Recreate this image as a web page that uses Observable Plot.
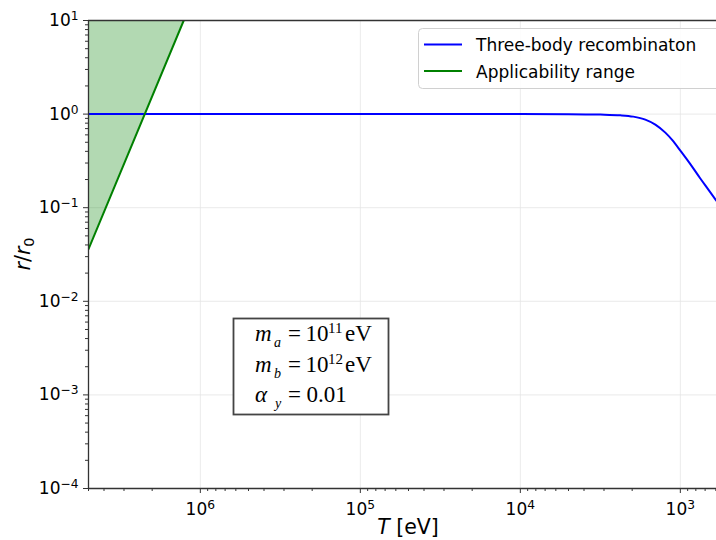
<!DOCTYPE html>
<html><head><meta charset="utf-8">
<script src="https://cdn.jsdelivr.net/npm/d3@7"></script>
<script src="https://cdn.jsdelivr.net/npm/@observablehq/plot@0.6"></script>
<style>
html,body{margin:0;padding:0;background:#fff;overflow:hidden}
#chart{position:relative;width:716px;height:540px;overflow:hidden}
#chart svg{max-width:none !important}
</style>
</head><body><div id="chart"></div>
<script>
// ---- data ----
const threeBodyT = [5e6, 1e6, 1e5, 1e4, 5000, 3162, 2371, 1968, 1655, 1433, 1241, 1122, 1000, 866, 750, 668, 596];
const threeBodyR = [1, 1, 1, 1, 0.998, 0.988, 0.971, 0.940, 0.873, 0.772, 0.634, 0.527, 0.407, 0.292, 0.205, 0.156, 0.119];
const rangeT = [5e6, 1.27e6];
const rangeR = [0.036, 10];
const xDomain = [5e6, 500];
const yDomain = [1e-4, 10];
const xMajor = [1e6, 1e5, 1e4, 1e3];
const yMajor = [1e-4, 1e-3, 1e-2, 1e-1, 1, 10];
const seriesNames = ["Three-body recombinaton", "Applicability range"];
const seriesColors = ["blue", "green"];
const xLabelText = ["T", " [eV]"];

const threeBody = threeBodyT.map((T, i) => ({T, r: threeBodyR[i]}));
const range = rangeT.map((T, i) => ({T, r: rangeR[i]}));

const minor = (lo, hi) => {
  const out = [];
  for (let e = Math.floor(Math.log10(lo)) - 1; e <= Math.ceil(Math.log10(hi)); e++)
    for (let k = 2; k <= 9; k++) { const v = k * Math.pow(10, e); if (v >= lo && v <= hi) out.push(v); }
  return out;
};
const xMinor = minor(xDomain[1], xDomain[0]);
const yMinor = minor(yDomain[0], yDomain[1]);
const expFmt = d => "10^" + Math.round(Math.log10(d));

const W = 728, H = 540;
const spine = "#333";
const plot = Plot.plot({
  width: W, height: H,
  marginTop: 20, marginBottom: 52, marginLeft: 88, marginRight: 0,
  style: {fontFamily: "DejaVu Sans", fontSize: "17px", background: "white", color: "black", overflow: "visible", maxWidth: "none"},
  x: {type: "log", domain: xDomain, label: null},
  y: {type: "log", domain: yDomain, label: null},
  marks: [
    Plot.gridX(xMajor, {stroke: "#e4e4e4", strokeOpacity: 1, strokeWidth: 0.8}),
    Plot.gridY(yMajor, {stroke: "#e4e4e4", strokeOpacity: 1, strokeWidth: 0.8}),
    Plot.areaY(range, {x: "T", y1: "r", y2: () => yDomain[1], fill: seriesColors[1], fillOpacity: 0.3}),
    Plot.line(threeBody, {x: "T", y: "r", stroke: seriesColors[0], strokeWidth: 2, curve: "monotone-x", clip: true}),
    Plot.line(range, {x: "T", y: "r", stroke: seriesColors[1], strokeWidth: 2, clip: true}),
    Plot.ruleY([yDomain[1]], {stroke: spine, strokeWidth: 1.3}),
    Plot.ruleY([yDomain[0]], {stroke: spine, strokeWidth: 1.3}),
    Plot.ruleX([xDomain[0]], {stroke: spine, strokeWidth: 1.3}),
    Plot.axisX(xMajor, {tickSize: 5, tickPadding: 9, tickFormat: expFmt, label: null, stroke: spine}),
    Plot.axisX(xMinor, {tickSize: 3, tickFormat: () => "", label: null, stroke: spine}),
    Plot.axisY(yMajor, {tickSize: 5, tickPadding: 5, tickFormat: expFmt, label: null, stroke: spine}),
    Plot.axisY(yMinor, {tickSize: 3, tickFormat: () => "", label: null, stroke: spine})
  ]
});
document.getElementById("chart").appendChild(plot);
const svgNode = plot.tagName.toLowerCase() === "svg" ? plot : plot.querySelector("svg");
svgNode.style.maxWidth = "none";
const svg = d3.select(svgNode);

// superscript tick labels
svg.selectAll('g[aria-label="x-axis tick label"] text, g[aria-label="y-axis tick label"] text').each(function () {
  const el = d3.select(this);
  const s = el.text();
  if (!s.includes("^")) return;
  const [b, e] = s.split("^");
  el.text("");
  el.append("tspan").text(b);
  el.append("tspan").attr("dy", "-0.48em").attr("font-size", "0.72em").text(e.replace("-", "\u2212"));
});

// axis labels
const xl = svg.append("text").attr("x", 88 + (W - 88) / 2).attr("y", 534)
  .attr("text-anchor", "middle").attr("font-family", "DejaVu Sans").attr("font-size", 20.5).attr("fill", "black");
xl.append("tspan").attr("font-style", "italic").text(xLabelText[0]);
xl.append("tspan").text(xLabelText[1]);

const yl = svg.append("text").attr("transform", `translate(30,${20 + 468 / 2}) rotate(-90)`)
  .attr("text-anchor", "middle").attr("font-family", "DejaVu Sans").attr("font-size", 20.5).attr("fill", "black");
yl.append("tspan").attr("font-style", "italic").text("r");
yl.append("tspan").text("/");
yl.append("tspan").attr("font-style", "italic").text("r");
yl.append("tspan").attr("font-size", "0.7em").attr("dy", "0.3em").text("0");

// legend
const lg = svg.append("g").attr("font-family", "DejaVu Sans").attr("font-size", 17).attr("text-anchor", "start");
lg.append("rect").attr("x", 418.5).attr("y", 28.5).attr("width", 303).attr("height", 60).attr("rx", 4)
  .attr("fill", "white").attr("fill-opacity", 0.85).attr("stroke", "#d0d0d0");
seriesNames.forEach((name, i) => {
  const y = 44.5 + i * 26.5;
  lg.append("line").attr("x1", 424).attr("x2", 462).attr("y1", y).attr("y2", y)
    .attr("stroke", seriesColors[i]).attr("stroke-width", 2);
  lg.append("text").attr("x", 476).attr("y", y + 6.5).attr("fill", "black").text(name);
});

// parameter box
const bx = svg.append("g").attr("font-family", "Liberation Serif").attr("fill", "black").attr("text-anchor", "start");
bx.append("rect").attr("x", 233.5).attr("y", 318.5).attr("width", 155).attr("height", 96)
  .attr("fill", "white").attr("stroke", "#444").attr("stroke-width", 1.8);
const T = (x, y, s, opts = {}) => {
  const t = bx.append("text").attr("x", x).attr("y", y).attr("font-size", opts.size || 23).text(s);
  if (opts.italic) t.attr("font-style", "italic");
  return t;
};
// line 1
T(255, 341, "m", {italic: true}); T(274, 347, "a", {italic: true, size: 14});
T(288, 341, "="); T(305.5, 341, "10"); T(328, 333, "11", {size: 15});
T(345, 341, "eV");
// line 2
T(255, 372, "m", {italic: true}); T(274, 378, "b", {italic: true, size: 14});
T(288, 372, "="); T(305.5, 372, "10"); T(328, 364, "12", {size: 15});
T(345, 372, "eV");
// line 3
T(255, 402, "\u03B1", {italic: true}); T(275, 408, "y", {italic: true, size: 14});
T(288, 402, "="); T(306.5, 402, "0.01");
</script>
</body></html>
